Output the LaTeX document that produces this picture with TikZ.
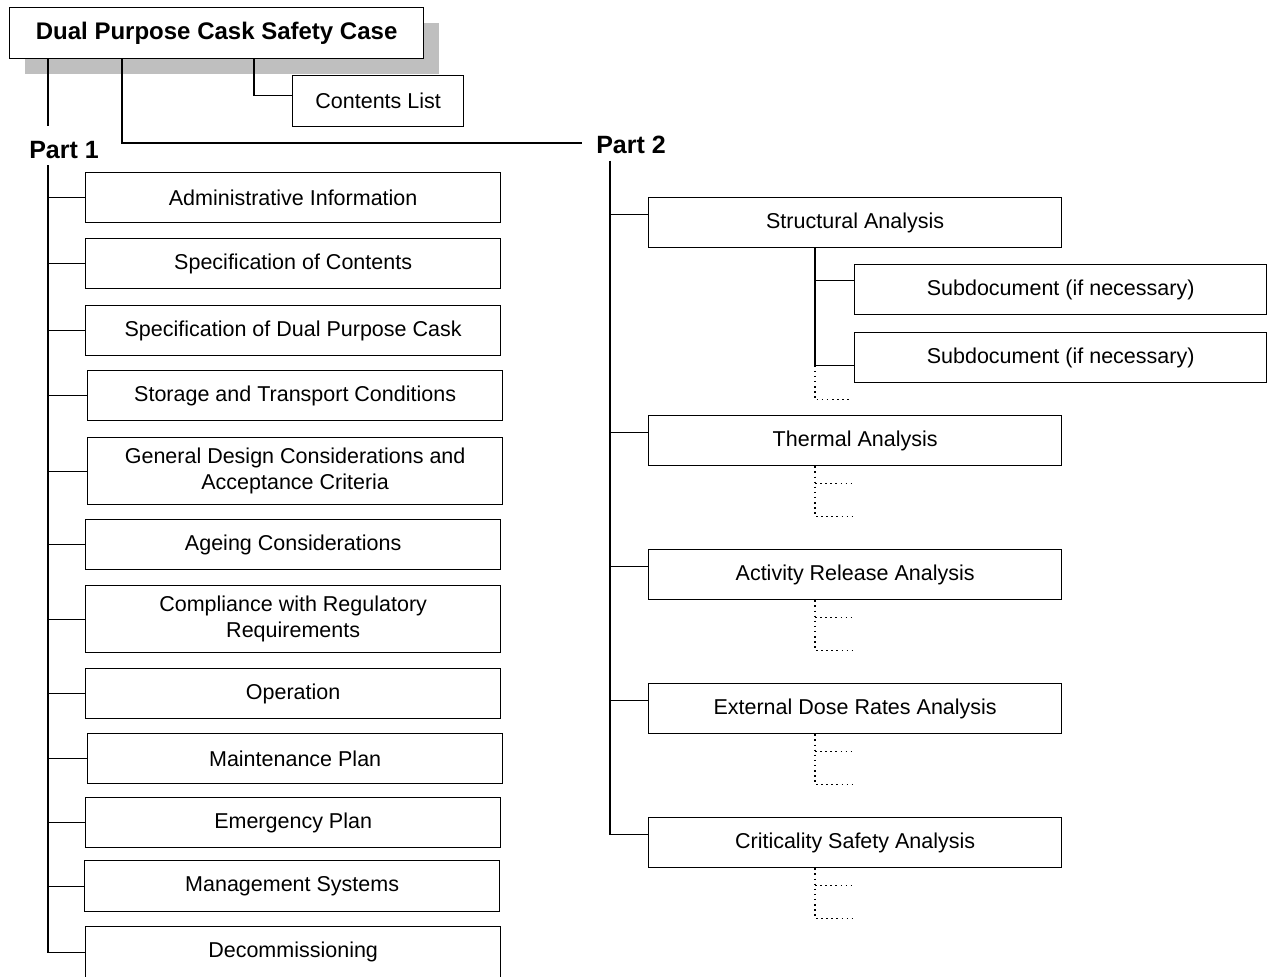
\documentclass[tikz,border=0pt]{standalone}
\usepackage{fontspec}
\setmainfont{Liberation Sans}
\usetikzlibrary{shadows}
\tikzset{
  docbox/.style={draw, line width=1.3pt, fill=white, anchor=north west,
    align=center, inner sep=2pt, font=\fontsize{21.5}{26}\selectfont},
  partlabel/.style={font=\bfseries\fontsize{25}{30}\selectfont, inner sep=6pt},
  dotstub/.style={line width=1.5pt, dash pattern=on 1.5pt off 3.6pt}
}

\begin{document}
\begin{tikzpicture}[x=1pt, y=-1pt, line width=1.3pt]
\useasboundingbox (0,0) rectangle (1267,977);
% title and contents list
\node[docbox, minimum width=414pt, minimum height=51pt,
  font=\bfseries\fontsize{24}{28}\selectfont,
  drop shadow={fill=black!25, opacity=1, shadow xshift=15pt, shadow yshift=-15pt}]
  (title) at (9,7) {Dual Purpose Cask Safety Case};
\node[docbox, minimum width=171pt, minimum height=51pt] (cl) at (292,75) {Contents List};
\draw (title.south -| 254,0) |- ([yshift=6pt]cl.west);
% part labels
\node[partlabel] (p1) at (64,150) {Part 1};
\node[partlabel] (p2) at (631,145) {Part 2};
\coordinate (s1) at (48,0);
\coordinate (s2) at (610,0);
\coordinate (s3) at (815,0);
\coordinate (p1top) at (48,126);
\draw (title.south -| s1) -- (p1top);
\draw (title.south -| 122,0) |- ([xshift=-8pt,yshift=2pt]p2.west);
% part 1 documents
\foreach \n/\x/\y/\h/\txt in {
    ai/85/172/50/Administrative Information,
    sc/85/238/50/Specification of Contents,
    sk/85/305/50/Specification of Dual Purpose Cask,
    st/87/370/50/Storage and Transport Conditions,
    gd/87/437/67/{General Design Considerations and\\Acceptance Criteria},
    ag/85/519/50/Ageing Considerations,
    cr/85/585/67/{Compliance with Regulatory\\Requirements},
    op/85/668/50/Operation,
    mp/87/733/50/Maintenance Plan,
    ep/85/797/50/Emergency Plan,
    ms/84/860/51/Management Systems,
    dc/85/926/51/Decommissioning} {
  \node[docbox, minimum width=415pt, minimum height=\h] (\n) at (\x,\y) {\txt};
  \draw (\n.west -| s1) -- (\n.west);
}
\draw (p1.south -| s1) |- (dc.west);
% part 2 analyses
\foreach \n/\y/\txt in {
    sa/197/Structural Analysis,
    ta/415/Thermal Analysis,
    ar/549/Activity Release Analysis,
    ed/683/External Dose Rates Analysis,
    cs/817/Criticality Safety Analysis} {
  \node[docbox, minimum width=413pt, minimum height=50pt] (\n) at (648,\y) {\txt};
  \draw ([yshift=8pt]\n.west -| s2) -- ([yshift=8pt]\n.west);
}
\draw (p2.south -| s2) |- ([yshift=8pt]cs.west);
% subdocuments
\node[docbox, minimum width=412pt, minimum height=50pt] (sd1) at (854,264) {Subdocument (if necessary)};
\node[docbox, minimum width=412pt, minimum height=50pt] (sd2) at (854,332) {Subdocument (if necessary)};
\draw (sa.south -| s3) |- ([yshift=9pt]sd1.west);
\draw (sa.south -| s3) |- ([yshift=-8pt]sd2.west);
\draw[dotstub] ([yshift=-8pt]sd2.west -| s3) -- ++(0,34) -- ++(37,0);
% dotted stubs
\foreach \n in {ta,ar,ed,cs}
  \draw[dotstub] (\n.south -| s3) -- ++(0,50) -- ++(37,0)
    (\n.south -| s3) ++(0,17) -- ++(37,0);
\end{tikzpicture}
\end{document}
